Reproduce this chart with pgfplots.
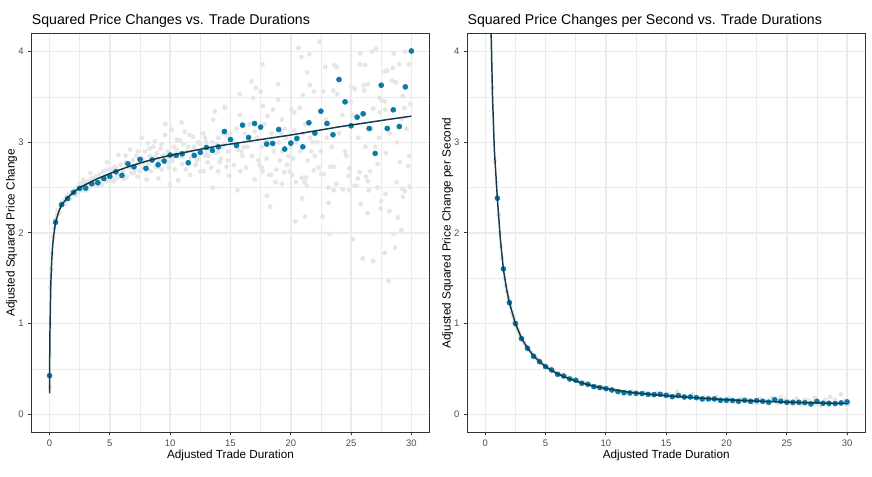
\documentclass[border=0pt]{standalone}
\usepackage{pgfplots}
\pgfplotsset{compat=1.18}
\usepackage{fontspec}
\setmainfont{Liberation Sans}
\definecolor{gridc}{HTML}{EBEBEB}
\definecolor{bordc}{HTML}{333333}
\definecolor{tickc}{HTML}{4D4D4D}
\definecolor{bluept}{HTML}{0A7BA6}
\definecolor{linec}{HTML}{123A4C}
\definecolor{graypt}{HTML}{E6E6E6}
\pgfplotsset{ggstyle/.style={
  scale only axis, width=298.5pt, height=299.2pt,
  xmin=-1.5, xmax=31.5, ymin=-0.2, ymax=4.2,
  xtick={0,5,...,30}, ytick={0,1,2,3,4},
  minor xtick={2.5,7.5,12.5,17.5,22.5,27.5},
  minor ytick={0.5,1.5,2.5,3.5},
  grid=both,
  major grid style={gridc, line width=1.1pt},
  minor grid style={gridc, line width=0.55pt},
  axis line style={bordc, line width=0.9pt},
  tick style={bordc, line width=0.8pt},
  tick align=outside, major tick length=2.3pt, minor tick length=0pt,
  tick pos=left,
  ticklabel style={font=\fontsize{7.1}{8}\selectfont, text=tickc},
  /pgf/number format/assume math mode=true,
  clip=true, clip marker paths=true,
}}
\begin{document}
\begin{tikzpicture}
\path[use as bounding box] (0,0) rectangle (654pt,357pt);
% ---------------- left panel ----------------
\begin{axis}[ggstyle, at={(23.6pt,32.7pt)}, anchor=south west]
\addplot[only marks, mark=*, mark size=1.6pt, graypt, mark options={fill=graypt, draw=graypt}] coordinates {
(0.02,0.3)(0.03,0.65)(0.05,1.0)(0.08,1.4)(0.15,1.6)(0.2,1.78)(0.3,1.95)(0.35,2.05)(0.45,2.15)(0.6,2.2)(0.7,2.25)(0.8,2.22)(0.9,2.3)(1.1,2.33)(1.2,2.36)(1.3,2.32)(1.4,2.4)(1.6,2.42)(1.7,2.38)(1.8,2.45)(1.9,2.43)
(2.1,2.47)(2.2,2.42)(2.3,2.5)(2.4,2.46)(2.6,2.52)(2.7,2.47)(2.8,2.55)(2.81,2.585)(2.9,2.5)(3.1,2.56)(3.2,2.49)(3.3,2.58)(3.37,2.66)(3.4,2.53)(3.6,2.6)(3.7,2.52)(3.8,2.62)(3.9,2.56)(4.1,2.64)(4.2,2.55)(4.33,2.53)(4.3,2.6)(4.4,2.67)(4.6,2.62)(4.7,2.57)(4.75,2.78)(4.8,2.7)(4.9,2.63)
(2.5,2.55)(3.0,2.47)(3.5,2.6)(4.0,2.52)(4.5,2.68)(5.0,2.58)(5.5,2.72)(6.0,2.64)(6.5,2.74)(7.0,2.66)(7.5,2.8)(8.0,2.7)(8.5,2.83)(9.0,2.73)(9.5,2.86)(10.0,2.78)(10.5,2.92)(11.0,2.84)(11.5,2.95)(12.0,2.86)(12.5,2.98)(13.0,2.88)(13.5,3.0)(14.0,2.9)(14.5,2.98)
(5.1,2.6)(5.2,2.7)(5.29,2.57)(5.4,2.73)(5.6,2.65)(5.71,2.86)(5.8,2.62)(5.9,2.75)(6.1,2.68)(6.2,2.6)(6.3,2.78)(6.4,2.62)(6.6,2.72)(6.67,2.92)(6.8,2.66)(6.9,2.8)(7.1,2.7)(7.2,2.85)(7.3,2.62)(7.4,2.76)(7.5,2.68)(7.64,3.05)(7.7,2.82)(7.8,2.72)(7.9,2.9)(8.05,2.59)(8.14,2.99)(8.2,2.76)(8.3,2.85)(8.4,2.68)(8.6,2.95)(8.74,3.01)(8.8,2.73)(8.9,2.88)(9.02,2.6)(9.1,2.8)(9.2,2.93)(9.3,2.7)(9.4,2.85)(9.57,3.08)(9.6,3.2)(9.7,2.78)(9.8,2.9)(9.98,2.53)(9.9,2.72)
(10.12,3.14)(10.2,2.8)(10.3,2.95)(10.4,2.7)(10.54,3.03)(10.67,2.58)(10.8,2.88)(10.95,3.22)(11.0,2.76)(11.1,2.98)(11.22,3.12)(11.3,2.7)(11.4,2.9)(11.64,2.64)(11.7,2.83)(11.91,3.06)(12.0,2.95)(12.1,2.75)(12.3,3.0)(12.4,2.82)(12.5,2.68)(12.6,2.92)(12.74,3.1)(12.8,2.68)(12.9,2.85)(13.0,3.0)(13.1,2.78)(13.3,2.93)(13.4,2.72)(13.51,2.5)(13.57,3.25)(13.7,3.34)(13.8,2.88)(13.98,2.68)(14.0,3.05)(14.2,2.82)(14.3,2.95)(14.4,3.1)(14.53,3.39)(14.67,2.73)(14.8,2.9)(14.9,2.63)(14.95,3.02)(14.53,3.38)(14.89,2.63)
(10.8,3.02)(11.6,3.08)(12.2,2.8)(12.9,3.05)(13.2,2.85)(13.9,2.98)(14.1,2.78)(14.7,3.08)(10.3,2.85)(9.3,2.98)(8.3,2.93)(7.3,2.9)(6.3,2.85)(5.5,2.6)(6.8,2.72)(7.8,2.78)(8.8,2.83)(9.8,2.84)(11.8,2.9)
(15.2,3.0)(15.5,3.15)(15.58,2.47)(15.77,3.53)(15.77,3.30)(15.83,2.68)(16.0,2.85)(16.1,2.95)(16.2,3.1)(16.4,2.95)(16.6,3.2)(16.74,3.67)(16.87,3.49)(17.0,2.59)(17.1,3.6)(17.2,3.05)(17.3,2.8)(17.5,3.56)(17.59,2.72)(17.65,3.86)(17.67,2.68)(17.7,3.4)(17.8,3.2)(17.9,3.0)(18.03,2.41)(18.07,3.29)(18.17,2.64)(18.28,2.29)(18.36,2.64)(18.4,3.1)(18.53,3.36)(18.6,2.9)(18.73,2.56)(18.94,3.64)(18.95,3.47)(19.0,3.0)(19.1,2.8)(19.25,3.25)(19.28,2.54)(19.44,2.67)(19.5,3.15)(19.6,3.05)(19.8,2.85)(19.91,2.68)(20.0,2.95)(20.05,3.36)(20.13,2.64)(20.3,3.33)(20.32,3.13)(20.38,2.13)(20.43,2.56)(20.6,3.05)(20.63,4.04)(20.74,3.38)(20.88,3.94)(20.9,2.61)(20.93,2.38)(21.01,3.52)(21.15,2.56)(21.18,2.18)(21.2,3.2)(21.25,2.61)(21.34,2.52)(21.37,3.77)(21.54,3.97)(21.57,3.63)(21.7,2.9)(21.8,3.0)(21.92,2.69)(21.93,3.56)
(14.8,2.8)(15.3,2.75)(15.9,2.9)(16.3,2.72)(16.8,2.85)(17.4,2.75)(18.0,2.82)(18.8,2.7)(19.3,2.9)(19.7,2.75)(20.2,2.82)(20.8,2.9)(21.4,2.8)(22.0,2.85)(22.3,2.72)
(15.0,3.1)(15.6,2.92)(16.5,3.02)(17.0,3.12)(17.6,2.95)(18.2,3.0)(19.2,3.1)(20.4,3.0)(21.0,3.1)(21.6,3.05)
(22.39,4.11)(22.53,2.65)(22.64,2.18)(22.67,3.56)(22.75,2.65)(22.86,3.83)(23.11,2.5)(23.14,2.33)(23.22,1.99)(23.3,2.73)(23.52,3.57)(23.55,2.47)(23.58,2.73)(23.63,3.85)(23.77,2.54)(23.8,3.83)(23.85,3.53)(24.32,2.48)(24.79,2.63)(24.82,2.47)(24.87,2.71)(24.98,3.45)(25.0,3.61)(25.17,1.93)(25.28,2.52)(25.31,3.59)(25.45,2.52)(25.56,2.6)(25.73,3.86)(25.75,3.98)(25.7,2.67)(25.8,2.32)(25.97,1.72)(26.05,3.63)(26.1,3.57)(26.17,3.85)(26.24,2.62)(26.36,2.22)(26.38,3.64)(26.4,2.57)(26.47,2.47)(26.58,2.68)(26.75,4.0)(26.83,3.37)(26.83,1.69)(27.08,4.03)(27.19,2.5)(27.21,2.76)(27.35,3.49)(27.4,3.33)(27.46,2.27)(27.49,2.35)(27.55,3.46)(27.79,3.78)(27.79,1.78)(27.8,3.45)(27.82,3.36)(27.85,2.43)(27.87,2.88)(28.0,3.79)(28.12,1.47)(28.18,2.24)(28.4,3.68)(28.45,3.82)(28.51,1.99)(28.54,3.98)(28.65,1.84)(28.73,3.66)(28.78,2.56)(28.87,2.17)(29.0,3.86)(29.06,2.78)(29.17,2.03)(29.23,3.26)(29.25,2.49)(29.28,3.51)(29.3,2.4)(29.42,3.38)(29.45,2.46)(29.5,4.0)(29.75,2.74)(29.8,3.86)(29.83,2.85)(29.86,2.51)(29.92,3.42)
(22.2,3.0)(22.9,3.25)(23.4,2.95)(24.0,3.1)(24.5,2.9)(25.1,3.3)(25.6,3.05)(26.2,2.95)(26.7,3.15)(27.3,3.05)(28.2,3.1)(28.8,3.0)(29.6,3.15)(24.3,3.3)(23.0,3.05)(22.5,2.9)(24.6,2.85)(27.0,2.95)
};
\addplot[only marks, mark=*, mark size=1.9pt, bluept, mark options={fill=bluept, draw=bluept}] coordinates {
(0,0.426)(0.5,2.117)(1,2.312)(1.5,2.378)(2,2.448)(2.5,2.492)(3,2.495)(3.5,2.543)(4,2.554)(4.5,2.60)(5,2.624)(5.5,2.675)(6,2.635)(6.5,2.763)(7,2.730)(7.5,2.811)(8,2.712)(8.5,2.804)(9,2.752)(9.5,2.793)(10,2.859)(10.5,2.855)(11,2.873)(11.5,2.774)(12,2.855)(12.5,2.888)(13,2.943)(13.5,2.910)(14,2.950)(14.5,3.119)(15,3.031)(15.5,2.965)(16,3.189)(16.5,3.053)(17,3.207)(17.5,3.167)(18,2.980)(18.5,2.987)(19,3.141)(19.5,2.925)(20,2.991)(20.5,3.042)(21,2.950)(21.5,3.215)(22,3.101)(22.5,3.343)(23,3.207)(23.5,3.083)(24,3.692)(24.5,3.446)(25,3.182)(25.5,3.277)(26,3.314)(26.5,3.152)(27,2.877)(27.5,3.629)(28,3.152)(28.5,3.358)(29,3.174)(29.5,3.611)(30,4.007)
};
\addplot[no marks, linec, line width=1.1pt] coordinates {
(0,0.23)(0.01,0.55)(0.03,0.88)(0.06,1.12)(0.1,1.42)(0.17,1.67)(0.25,1.85)(0.35,1.98)(0.5,2.12)(0.75,2.23)(1,2.31)(1.5,2.39)(2,2.45)(2.5,2.50)(3,2.535)(4,2.60)(5,2.655)(6,2.705)(7,2.75)(8,2.79)(9,2.825)(10,2.855)(12,2.91)(14,2.96)(16,3.0)(18,3.04)(20,3.08)(22,3.125)(24,3.17)(26,3.21)(28,3.25)(30,3.288)
};
\end{axis}
% ---------------- right panel ----------------
\begin{axis}[ggstyle, at={(350.4pt,32.7pt)}, anchor=south west]
\addplot[only marks, mark=*, mark size=1.6pt, graypt, mark options={fill=graypt, draw=graypt}] coordinates {
(0.6,3.6)(0.8,2.8)(0.9,2.55)(1.1,2.2)(1.2,2.0)(1.3,1.85)(1.4,1.72)(1.6,1.5)(1.7,1.42)(1.8,1.35)(1.9,1.28)(2.1,1.18)(2.2,1.12)(2.3,1.08)(2.4,1.03)(2.6,0.97)(2.7,0.93)(2.8,0.9)(2.9,0.86)(3.2,0.79)(3.4,0.75)(3.6,0.71)(3.8,0.68)(4.2,0.62)(4.4,0.6)(4.7,0.56)(4.9,0.54)(5.2,0.51)(5.4,0.5)(5.7,0.47)(6.2,0.44)(6.4,0.43)(6.8,0.41)(7.2,0.39)(7.7,0.37)(8.2,0.35)(8.7,0.33)(9.2,0.31)(9.7,0.3)(10.2,0.29)(10.7,0.27)(11.2,0.26)(11.7,0.25)(12.2,0.25)(12.7,0.23)(13.2,0.24)(13.7,0.22)(14.2,0.23)(14.7,0.21)(15.2,0.22)(15.7,0.2)(15.9,0.25)(16.2,0.21)(16.8,0.19)(17.2,0.22)(17.7,0.18)(18.2,0.19)(18.8,0.17)(19.2,0.19)(19.8,0.16)(20.2,0.18)(20.8,0.15)(21.2,0.17)(21.8,0.15)(22.2,0.13)(22.8,0.17)(23.2,0.14)(23.8,0.18)(24.2,0.12)(24.8,0.16)(25.2,0.14)(25.8,0.17)(26.2,0.11)(26.8,0.15)(27.2,0.13)(27.3,0.18)(27.8,0.1)(28.2,0.16)(28.6,0.19)(29.2,0.12)(29.5,0.22)(29.8,0.15)(30,0.1)(22.5,0.12)(23.5,0.16)(24.5,0.19)(25.5,0.11)(26.5,0.16)(27.5,0.12)(28.5,0.1)(29,0.16)
};
\addplot[only marks, mark=*, mark size=1.9pt, bluept, mark options={fill=bluept, draw=bluept}] coordinates {
(1,2.383)(1.5,1.603)(2,1.231)(2.5,1.0)(3,0.834)(3.5,0.728)(4,0.64)(4.5,0.58)(5,0.525)(5.5,0.489)(6,0.441)(6.5,0.422)(7,0.389)(7.5,0.375)(8,0.342)(8.5,0.331)(9,0.305)(9.5,0.294)(10,0.283)(10.5,0.268)(11,0.25)(11.5,0.238)(12,0.235)(12.5,0.231)(13,0.228)(13.5,0.22)(14,0.217)(14.5,0.22)(15,0.209)(15.5,0.194)(16,0.206)(16.5,0.191)(17,0.191)(17.5,0.183)(18,0.169)(18.5,0.169)(19,0.169)(19.5,0.154)(20,0.154)(20.5,0.151)(21,0.143)(21.5,0.154)(22,0.143)(22.5,0.151)(23,0.143)(23.5,0.132)(24,0.161)(24.5,0.143)(25,0.132)(25.5,0.132)(26,0.132)(26.5,0.128)(27,0.114)(27.5,0.143)(28,0.121)(28.5,0.121)(29,0.118)(29.5,0.125)(30,0.136)
};
\addplot[no marks, linec, line width=1.1pt] coordinates {
(0.44,4.45)(0.5,4.1)(0.6,3.5)(0.75,2.92)(1,2.38)(1.25,1.93)(1.5,1.6)(1.75,1.39)(2,1.23)(2.5,1.0)(3,0.84)(3.5,0.73)(4,0.645)(4.5,0.58)(5,0.525)(6,0.445)(7,0.39)(8,0.345)(9,0.31)(10,0.283)(12,0.243)(14,0.215)(16,0.195)(18,0.177)(20,0.160)(22,0.148)(24,0.138)(26,0.13)(28,0.124)(30,0.118)
};
\end{axis}
% ---------------- titles and labels ----------------
\node[anchor=base west, inner sep=0pt, font=\fontsize{10.6}{12}\selectfont] at (23.7pt,338.3pt) {Squared Price Changes vs. Trade Durations};
\node[anchor=base west, inner sep=0pt, font=\fontsize{10.6}{12}\selectfont] at (350.5pt,338.3pt) {Squared Price Changes per Second vs. Trade Durations};
\node[anchor=base, inner sep=0pt, font=\fontsize{8.8}{10}\selectfont] at (172.85pt,13pt) {Adjusted Trade Duration};
\node[anchor=base, inner sep=0pt, font=\fontsize{8.8}{10}\selectfont] at (499.65pt,13pt) {Adjusted Trade Duration};
\node[anchor=base, inner sep=0pt, rotate=90, font=\fontsize{8.8}{10}\selectfont] at (10.9pt,182.3pt) {Adjusted Squared Price Change};
\node[anchor=base, inner sep=0pt, rotate=90, font=\fontsize{8.8}{10}\selectfont] at (337.9pt,182.3pt) {Adjusted Squared Price Change per Second};
\end{tikzpicture}
\end{document}
